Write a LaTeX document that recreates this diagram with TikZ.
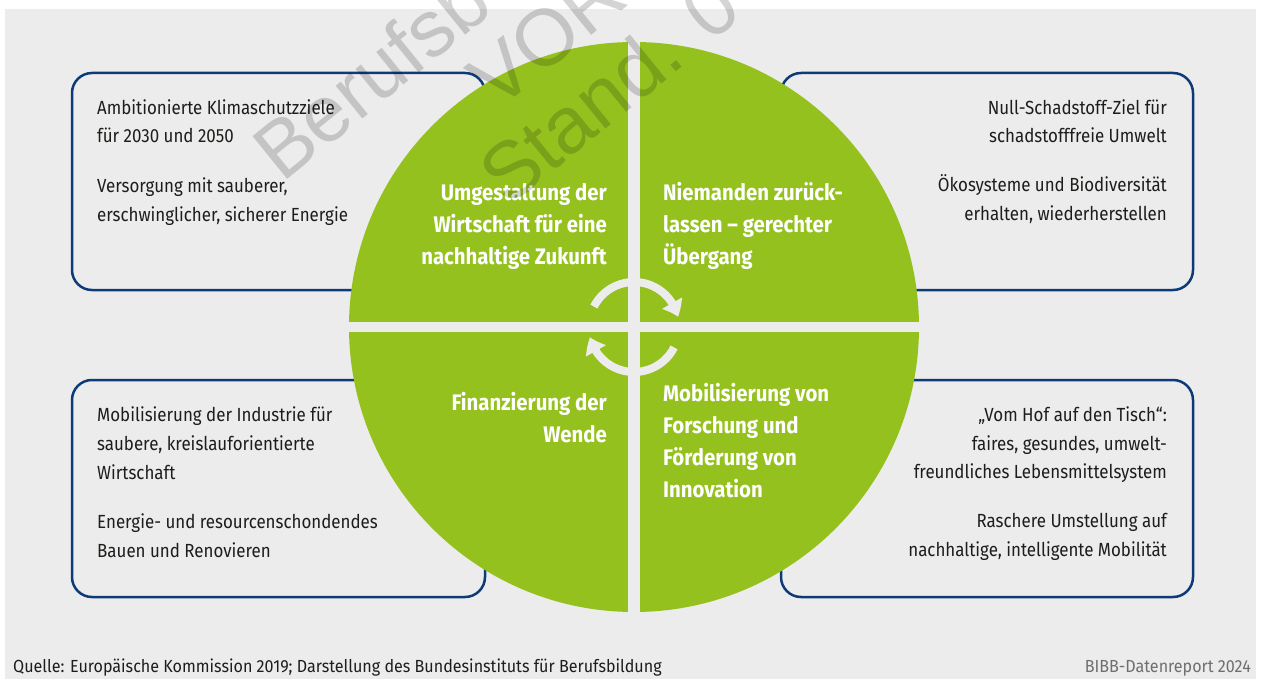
\documentclass[tikz,border=0pt]{standalone}
\usepackage{fontspec}
\setmainfont{Fira Sans}[FakeStretch=0.89]
\newfontfamily\ttlfont{Fira Sans}[FakeStretch=0.905]
\newfontfamily\footfont{Fira Sans}[FakeStretch=0.92]
\newfontfamily\wmfont{Liberation Sans}
\usetikzlibrary{arrows.meta,bending}
\definecolor{bggray}{HTML}{ECECEC}
\definecolor{leaf}{HTML}{95C11F}
\definecolor{navy}{HTML}{0D3B78}
\definecolor{ink}{HTML}{1D1D1B}
\definecolor{footgray}{HTML}{6F6F6F}
\begin{document}
\begin{tikzpicture}[x=1pt,y=1pt,
  box/.style={draw=navy, line width=2.5pt, rounded corners=20pt, fill=bggray},
  body/.style={inner sep=0pt, text=ink, font=\fontsize{19}{28}\selectfont},
  ttl/.style={inner sep=0pt, text=white, font=\ttlfont\fontsize{22.5}{32}\selectfont\bfseries},
  foot/.style={inner sep=0pt, font=\footfont\fontsize{17.5}{20}\selectfont},
  wm/.style={inner sep=0pt, text=black, text opacity=0.17, rotate=39, anchor=base west, font=\wmfont\fontsize{80}{80}\selectfont},
  cyc/.style={draw=bggray, line width=8pt, -{Triangle[width=22pt,length=15pt,bend]}}
]
\clip (0,0) rectangle (1261,-679);
\fill[white] (0,0) rectangle (1261,-679);
\fill[bggray] (5,-9) rectangle (1256,-679);
% boxes
\draw[box] (72,-73) rectangle (485,-290);
\draw[box] (781,-73) rectangle (1193,-290);
\draw[box] (72,-380) rectangle (485,-597);
\draw[box] (781,-380) rectangle (1193,-597);
% circle
\fill[leaf] (634,-327) circle[radius=285pt];
\fill[bggray] (628,-38) rectangle (640,-616);
\fill[bggray] (345,-322) rectangle (923,-332);
\coordinate (c) at (634,-327);
\draw[cyc] ([shift={(153:45pt)}]c) arc[start angle=153, end angle=13, radius=45pt];
\draw[cyc] ([shift={(-27:45pt)}]c) arc[start angle=-27, end angle=-167, radius=45pt];
% top-left box text
\node[body, anchor=base west] (tl1) at (97,-115) {Ambitionierte Klimaschutzziele};
\node[body, anchor=base west] (tl2) at (97,-143) {für 2030 und 2050};
\node[body, anchor=base west] (tl3) at (97,-193) {Versorgung mit sauberer,};
\node[body, anchor=base west] (tl4) at (97,-222) {erschwinglicher, sicherer Energie};
% top-right box text
\node[body, anchor=base east] (tr1) at (1167,-115) {Null-Schadstoff-Ziel für};
\node[body, anchor=base east] (tr2) at (1167,-143) {schadstofffreie Umwelt};
\node[body, anchor=base east] (tr3) at (1167,-192) {Ökosysteme und Biodiversität};
\node[body, anchor=base east] (tr4) at (1167,-221) {erhalten, wiederherstellen};
% bottom-left box text
\node[body, anchor=base west] (bl1) at (97,-421) {Mobilisierung der Industrie für};
\node[body, anchor=base west] (bl2) at (97,-450) {saubere, kreislauforientierte};
\node[body, anchor=base west] (bl3) at (97,-479) {Wirtschaft};
\node[body, anchor=base west] (bl4) at (97,-528) {Energie- und resourcenschondendes};
\node[body, anchor=base west] (bl5) at (97,-557) {Bauen und Renovieren};
% bottom-right box text
\node[body, anchor=base east] (br1) at (1167,-421) {„Vom Hof auf den Tisch“:};
\node[body, anchor=base east] (br2) at (1167,-450) {faires, gesundes, umwelt-};
\node[body, anchor=base east] (br3) at (1167,-478) {freundliches Lebensmittelsystem};
\node[body, anchor=base east] (br4) at (1167,-527) {Raschere Umstellung auf};
\node[body, anchor=base east] (br5) at (1167,-556) {nachhaltige, intelligente Mobilität};
% circle titles
\node[ttl, anchor=base east] (q1a) at (607,-200.5) {Umgestaltung der};
\node[ttl, anchor=base east] (q1b) at (607,-232.5) {Wirtschaft für eine};
\node[ttl, anchor=base east] (q1c) at (607,-264.5) {nachhaltige Zukunft};
\node[ttl, anchor=base west] (q2a) at (663,-200.5) {Niemanden zurück-};
\node[ttl, anchor=base west] (q2b) at (663,-232.5) {lassen – gerechter};
\node[ttl, anchor=base west] (q2c) at (663,-264.5) {Übergang};
\node[ttl, anchor=base east] (q3a) at (607,-410) {Finanzierung der};
\node[ttl, anchor=base east] (q3b) at (607,-442) {Wende};
\node[ttl, anchor=base west] (q4a) at (663,-401) {Mobilisierung von};
\node[ttl, anchor=base west] (q4b) at (663,-433) {Forschung und};
\node[ttl, anchor=base west] (q4c) at (663,-465) {Förderung von};
\node[ttl, anchor=base west] (q4d) at (663,-497) {Innovation};
% footer
\node[foot, text=ink, anchor=base west] (src) at (13,-672) {Quelle: Europäische Kommission 2019; Darstellung des Bundesinstituts für Berufsbildung};
\node[foot, text=footgray, anchor=base east] (rep) at (1251,-672) {BIBB-Datenreport 2024};
% watermark
\node[wm] (wm1) at (282,-184) {Berufsb};
\node[wm] (wm2) at (497,-112) {VOR};
\node[wm] (wm3) at (508,-208) {Stand. 0};
\end{tikzpicture}
\end{document}
